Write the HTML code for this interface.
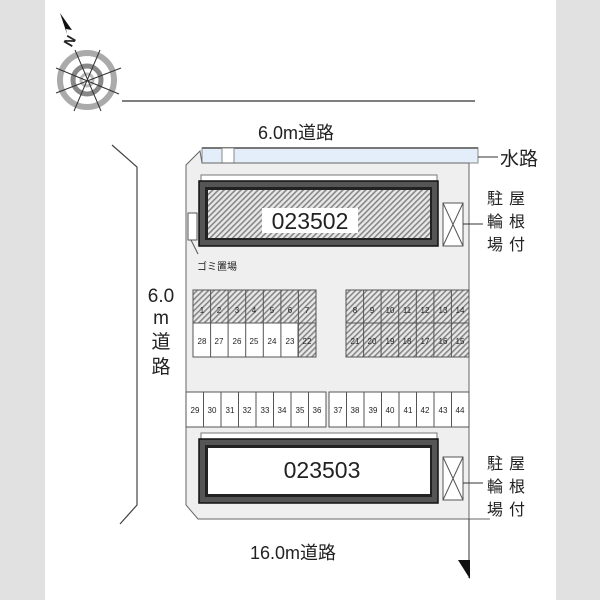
<!DOCTYPE html>
<html><head><meta charset="utf-8"><style>
html,body{margin:0;padding:0;background:#fff}
svg{display:block}
text{font-family:"Liberation Sans","Noto Sans CJK JP",sans-serif;fill:#222}
</style></head><body>
<svg width="600" height="600" viewBox="0 0 600 600" xmlns="http://www.w3.org/2000/svg">
<defs>
<pattern id="h" width="4" height="4" patternUnits="userSpaceOnUse" patternTransform="rotate(45)">
<rect width="4" height="4" fill="#e8e8e8"/><rect width="1.6" height="4" fill="#888"/>
</pattern>
</defs>
<rect x="0" y="0" width="45" height="600" fill="#e1e1e1"/>
<rect x="556" y="0" width="44" height="600" fill="#e1e1e1"/>
<!-- compass -->
<g stroke="#333">
<circle cx="87" cy="80" r="27" fill="none" stroke="#aaa" stroke-width="6"/>
<circle cx="87" cy="80" r="14" fill="none" stroke="#888" stroke-width="5"/>
<circle cx="87" cy="80" r="6" fill="none" stroke="#bbb" stroke-width="3"/>
<line x1="75" y1="50" x2="101" y2="111" stroke-width="1"/>
<line x1="100" y1="50" x2="74" y2="111" stroke-width="1"/>
<line x1="56" y1="68" x2="119" y2="94" stroke-width="1"/>
<line x1="56" y1="93" x2="121" y2="68" stroke-width="1"/>
</g>
<polygon points="60,13 72,30 66,29 67,34" fill="#111"/>
<text x="64" y="45" font-size="14" font-weight="bold" transform="rotate(-60 70 40)" font-family="Liberation Serif,serif">N</text>
<line x1="122" y1="101" x2="475" y2="101" stroke="#333" stroke-width="1.2"/>
<text x="258" y="139" font-size="18">6.0m道路</text>
<!-- water band -->
<rect x="202" y="148" width="276" height="15" fill="#e4eefa" stroke="#888" stroke-width="1"/>
<line x1="202" y1="148" x2="478" y2="148" stroke="#777" stroke-width="2"/>
<rect x="222" y="148" width="12" height="17" fill="#fff" stroke="#888"/>
<line x1="478" y1="157" x2="498" y2="157" stroke="#333"/>
<text x="500" y="165" font-size="19">水路</text>
<!-- lot -->
<polygon points="200,151 186,165 186,505 198,519 469,519 469,163 202,163" fill="#efefef" stroke="#666" stroke-width="1"/>
<line x1="469" y1="519" x2="490" y2="519" stroke="#666"/>
<!-- left bracket -->
<polyline points="112,145 137,167 137,505 120,524" fill="none" stroke="#444" stroke-width="1.2"/>
<text x="161" y="302" font-size="19" text-anchor="middle">6.0</text>
<text x="161" y="324" font-size="19" text-anchor="middle">m</text>
<text x="161" y="348" font-size="19" text-anchor="middle">道</text>
<text x="161" y="373" font-size="19" text-anchor="middle">路</text>
<!-- building 1 -->
<rect x="201" y="175" width="236" height="8" fill="#fff" stroke="#777"/>
<rect x="199" y="181" width="239" height="65" fill="#555" stroke="#111" stroke-width="1.5"/>
<rect x="205" y="187" width="227" height="53" fill="#222"/>
<rect x="208" y="190" width="222" height="48" fill="url(#h)"/>
<rect x="262" y="208" width="96" height="25" fill="#fff"/>
<text x="310" y="229" font-size="23" text-anchor="middle">023502</text>
<!-- gomi -->
<rect x="188" y="213" width="9" height="27" fill="#fff" stroke="#555"/>
<line x1="191" y1="240" x2="198" y2="254" stroke="#555"/>
<text x="197" y="270" font-size="10">ゴミ置場</text>
<!-- bike 1 -->
<g stroke="#555" fill="#fff"><rect x="443" y="203" width="20" height="43"/><line x1="443" y1="203" x2="463" y2="246"/><line x1="463" y1="203" x2="443" y2="246"/></g>
<line x1="463" y1="224" x2="483" y2="224" stroke="#333"/>
<g font-size="16"><text x="487" y="204">駐</text><text x="509" y="204">屋</text><text x="487" y="227">輪</text><text x="509" y="227">根</text><text x="487" y="250">場</text><text x="509" y="250">付</text></g>
<!-- parking -->
<g stroke="#555" stroke-width="1" font-size="8">
<!-- top-left row1 hatched -->
<rect x="193" y="290" width="123" height="33" fill="url(#h)"/>
<rect x="193" y="323" width="105" height="34" fill="#fff"/>
<rect x="298" y="323" width="18" height="34" fill="url(#h)"/>
<rect x="346" y="290" width="123" height="67" fill="url(#h)"/>
<path d="M210.6,290V357M228.1,290V357M245.7,290V357M263.3,290V357M280.9,290V357M298.4,290V357M193,323H316M363.6,290V357M381.1,290V357M398.7,290V357M416.3,290V357M433.9,290V357M451.4,290V357M346,323H469"/>
<rect x="186" y="392" width="140" height="35" fill="#fff"/>
<rect x="329" y="392" width="140" height="35" fill="#fff"/>
<path d="M203.5,392V427M221,392V427M238.5,392V427M256,392V427M273.5,392V427M291,392V427M308.5,392V427M346.5,392V427M364,392V427M381.5,392V427M399,392V427M416.5,392V427M434,392V427M451.5,392V427"/>
</g>
<g font-size="8" text-anchor="middle" fill="#333">
<text x="202" y="313">1</text><text x="219" y="313">2</text><text x="237" y="313">3</text><text x="254" y="313">4</text><text x="272" y="313">5</text><text x="290" y="313">6</text><text x="307" y="313">7</text>
<text x="202" y="344">28</text><text x="219" y="344">27</text><text x="237" y="344">26</text><text x="254" y="344">25</text><text x="272" y="344">24</text><text x="290" y="344">23</text><text x="307" y="344">22</text>
<text x="355" y="313">8</text><text x="372" y="313">9</text><text x="390" y="313">10</text><text x="407" y="313">11</text><text x="425" y="313">12</text><text x="443" y="313">13</text><text x="460" y="313">14</text>
<text x="355" y="344">21</text><text x="372" y="344">20</text><text x="390" y="344">19</text><text x="407" y="344">18</text><text x="425" y="344">17</text><text x="443" y="344">16</text><text x="460" y="344">15</text>
<text x="195" y="413">29</text><text x="212" y="413">30</text><text x="230" y="413">31</text><text x="247" y="413">32</text><text x="265" y="413">33</text><text x="282" y="413">34</text><text x="300" y="413">35</text><text x="317" y="413">36</text>
<text x="338" y="413">37</text><text x="355" y="413">38</text><text x="373" y="413">39</text><text x="390" y="413">40</text><text x="408" y="413">41</text><text x="425" y="413">42</text><text x="443" y="413">43</text><text x="460" y="413">44</text>
</g>
<!-- building 2 -->
<rect x="201" y="433" width="236" height="8" fill="#fff" stroke="#777"/>
<rect x="199" y="439" width="239" height="64" fill="#555" stroke="#111" stroke-width="1.5"/>
<rect x="205" y="445" width="227" height="52" fill="#222"/>
<rect x="208" y="448" width="222" height="46" fill="#fff"/>
<text x="322" y="478" font-size="23" text-anchor="middle">023503</text>
<g stroke="#555" fill="#fff"><rect x="443" y="457" width="20" height="43"/><line x1="443" y1="457" x2="463" y2="500"/><line x1="463" y1="457" x2="443" y2="500"/></g>
<line x1="463" y1="483" x2="483" y2="483" stroke="#333"/>
<g font-size="16"><text x="487" y="469">駐</text><text x="509" y="469">屋</text><text x="487" y="492">輪</text><text x="509" y="492">根</text><text x="487" y="515">場</text><text x="509" y="515">付</text></g>
<line x1="469" y1="519" x2="469" y2="578" stroke="#333"/>
<polygon points="458,560 470,560 470,579" fill="#111"/>
<text x="250" y="559" font-size="18">16.0m道路</text>
</svg>
</body></html>
